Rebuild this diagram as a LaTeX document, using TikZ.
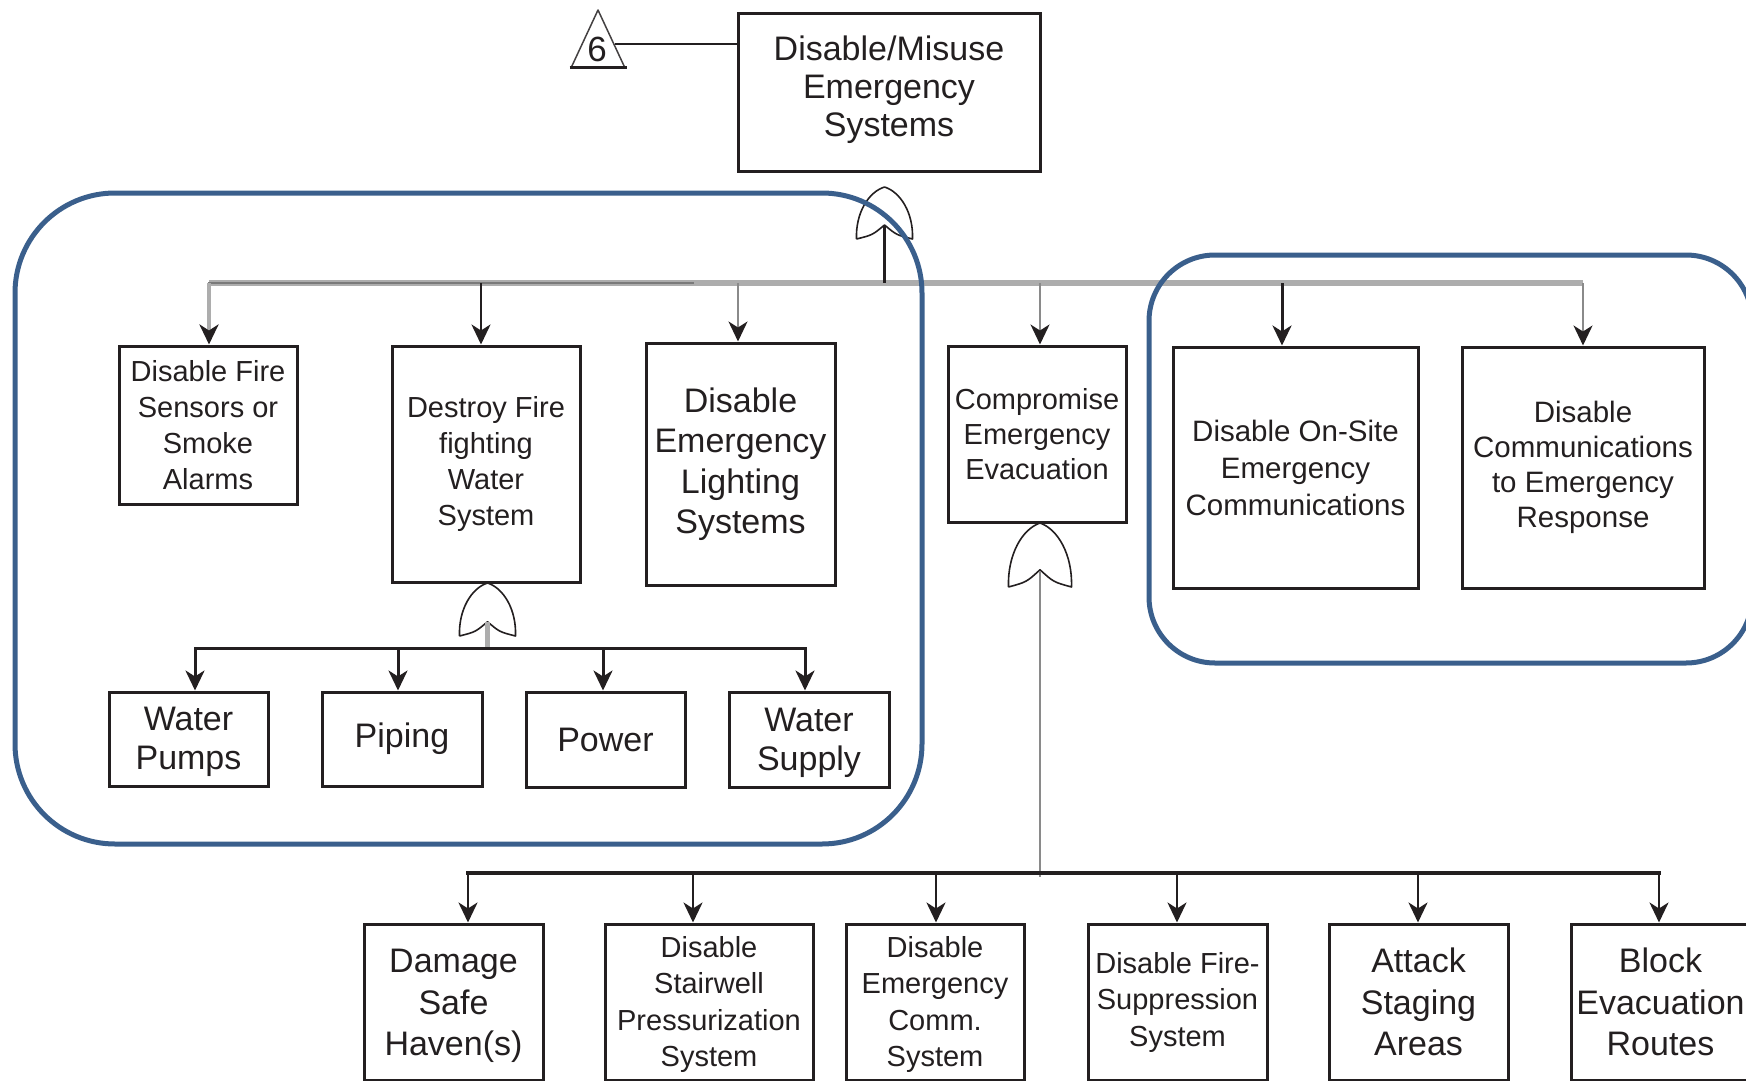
\documentclass[tikz,border=0pt]{standalone}
\usepackage{fontspec}
\setmainfont{Liberation Sans}
\usetikzlibrary{arrows.meta}
\definecolor{ink}{HTML}{231F20}
\definecolor{grpblue}{HTML}{3A5F8C}
\definecolor{busgray}{HTML}{ADADAD}
\definecolor{dimgray}{HTML}{7A7A7A}
\definecolor{midgray}{HTML}{8A8A8A}
\begin{document}
\begin{tikzpicture}[x=1pt,y=-1pt,
  box/.style={draw=ink, line width=3pt, fill=white, align=center, inner sep=0pt, text=ink},
  txtsize/.style 2 args={font=\fontsize{#1pt}{#2pt}\selectfont},
  arrowed/.style={-{Stealth[length=20pt,width=19pt,inset=6pt,color=ink]}},
  blk/.style={draw=ink, line width=3pt},
  grp/.style={draw=grpblue, line width=5pt},
  orgate/.pic={
    \draw[ink, line width=1.6pt, line join=round]
      (-28,0) .. controls (-29,-26) and (-16,-47) .. (0,-52)
      .. controls (16,-47) and (29,-26) .. (28,0)
      .. controls (12,-4) .. (0,-14)
      .. controls (-12,-4) .. (-28,0);
  }
]
\useasboundingbox (0,0) rectangle (1746,1081);
\clip (0,0) rectangle (1746,1081);

% ---------- top event and transfer triangle ----------
\node[box, txtsize={34}{38}, minimum width=302pt, minimum height=157pt] (top) at (889,92.5)
  {Disable/Misuse\\Emergency\\Systems\rule[-12pt]{0pt}{0pt}};
\draw[ink!85, line width=1.5pt, line join=round] (571,68) -- (598,10) -- (625,68);
\draw[ink, line width=3pt] (569.5,68) -- (626.5,68);
\node[text=ink, txtsize={35}{35}, inner sep=0pt] (six) at (597,49) {6};
\coordinate (trilink) at (615,44);
\draw[ink, line width=2.5pt] (trilink) -- (trilink -| top.west);

% ---------- first level ----------
\node[box, txtsize={29}{36}, minimum width=178pt, minimum height=158pt] (sensors) at (208,425)
  {Disable Fire\\Sensors or\\Smoke\\Alarms};
\node[box, txtsize={29}{36}, minimum width=188pt, minimum height=236pt] (destroy) at (486,464)
  {Destroy Fire\\fighting\\Water\\System};
\node[box, txtsize={34}{40.5}, minimum width=189pt, minimum height=242pt] (lighting) at (740.5,464)
  {Disable\\Emergency\\Lighting\\Systems};
\node[box, txtsize={29}{35}, minimum width=178pt, minimum height=176pt] (compromise) at (1037,434)
  {Compromise\\Emergency\\Evacuation};
\node[box, txtsize={29.5}{37}, minimum width=245pt, minimum height=241pt] (onsite) at (1295.5,467.5)
  {Disable On-Site\\Emergency\\Communications};
\node[box, txtsize={29.5}{35}, minimum width=242pt, minimum height=241pt] (response) at (1583,467.5)
  {Disable\\Communications\\to Emergency\\Response};

% ---------- water system parts ----------
\node[box, txtsize={34}{39}, minimum width=159pt, minimum height=94pt] (pumps) at (188.5,739)
  {\rule{0pt}{30pt}Water\\Pumps};
\node[box, txtsize={34}{39}, minimum width=160pt, minimum height=94pt] (piping) at (402,739)
  {Piping};
\node[box, txtsize={34}{39}, minimum width=159pt, minimum height=95pt] (power) at (605.5,739.5)
  {Power};
\node[box, txtsize={34}{39}, minimum width=160pt, minimum height=95pt] (supply) at (809,739.5)
  {\rule{0pt}{30pt}Water\\Supply};

% ---------- evacuation parts ----------
\node[box, txtsize={34}{41.5}, minimum width=179pt, minimum height=156pt] (damage) at (453.5,1002)
  {\rule{0pt}{32pt}Damage\\Safe\\Haven(s)};
\node[box, txtsize={29}{36.5}, minimum width=208pt, minimum height=156pt] (stair) at (709,1002)
  {\rule{0pt}{26pt}Disable\\Stairwell\\Pressurization\\System};
\node[box, txtsize={29}{36.5}, minimum width=178pt, minimum height=156pt] (comm) at (935,1002)
  {\rule{0pt}{26pt}Disable\\Emergency\\Comm.\\System};
\node[box, txtsize={29}{36.5}, minimum width=179pt, minimum height=156pt] (fsupp) at (1177.5,1002)
  {Disable Fire-\\Suppression\\System};
\node[box, txtsize={34}{41.5}, minimum width=179pt, minimum height=156pt] (attack) at (1418.5,1002)
  {Attack\\Staging\\Areas};
\node[box, txtsize={34}{41.5}, minimum width=179pt, minimum height=156pt] (block) at (1660.5,1002)
  {Block\\Evacuation\\Routes};

% ---------- OR gates ----------
\pic at (884.5,239) {orgate};
\pic[yscale=53/52] at (487.5,636) {orgate};
\pic[xscale=63/56, yscale=64/52] at (1040,587) {orgate};
\coordinate (g1out) at (884.5,226);
\coordinate (g2out) at (487.5,622);
\coordinate (g3out) at (1040,572);

% ---------- top bus ----------
\coordinate (t1) at (209,283);
\coordinate (tmid) at (693,283);
\coordinate (t2) at (481,283);
\coordinate (t3) at (738,283);
\coordinate (tg) at (884.5,283);
\coordinate (t4) at (1040,283);
\coordinate (t5) at (1282,283);
\coordinate (t6) at (1583,283);
\draw[busgray, line width=5.5pt] (t1) -- (t6);
\draw[dimgray, line width=2.5pt, line cap=rect] (t1) -- (tmid);
\draw[busgray, line width=4pt, arrowed] (t1) -- (t1 |- sensors.north);
\draw[ink, line width=2.5pt, arrowed] (t2) -- (t2 |- destroy.north);
\draw[midgray, line width=2pt, arrowed] (t3) -- (t3 |- lighting.north);
\draw[midgray, line width=2pt, arrowed] (t4) -- (t4 |- compromise.north);
\draw[ink, line width=3pt, arrowed] (t5) -- (t5 |- onsite.north);
\draw[midgray, line width=2pt, arrowed] (t6) -- (t6 |- response.north);
\draw[ink, line width=3pt] (g1out) -- (tg);

% ---------- water system bus ----------
\coordinate (r1) at (195,648);
\coordinate (r2) at (398,648);
\coordinate (rg) at (487.5,648);
\coordinate (r3) at (603,648);
\coordinate (r4) at (805,648);
\draw[busgray, line width=4.5pt] (g2out) -- (rg);
\draw[blk, line cap=rect] (r1) -- (r4);
\draw[ink, line width=3pt, arrowed] (r1) -- (r1 |- pumps.north);
\draw[ink, line width=3pt, arrowed] (r2) -- (r2 |- piping.north);
\draw[ink, line width=3pt, arrowed] (r3) -- (r3 |- power.north);
\draw[ink, line width=3pt, arrowed] (r4) -- (r4 |- supply.north);

% ---------- evacuation bus ----------
\coordinate (b1) at (468,873);
\coordinate (b2) at (693,873);
\coordinate (b3) at (936,873);
\coordinate (bg) at (1040,877);
\coordinate (b4) at (1177,873);
\coordinate (b5) at (1418,873);
\coordinate (b6) at (1659,873);
\draw[midgray, line width=2pt] (g3out) -- (bg);
\draw[ink, line width=3.5pt, line cap=rect] (b1) -- (b6);
\draw[ink, line width=2.5pt, arrowed] (b1) -- (b1 |- damage.north);
\draw[ink, line width=2.5pt, arrowed] (b2) -- (b2 |- stair.north);
\draw[ink, line width=2.5pt, arrowed] (b3) -- (b3 |- comm.north);
\draw[ink, line width=2.5pt, arrowed] (b4) -- (b4 |- fsupp.north);
\draw[ink, line width=2.5pt, arrowed] (b5) -- (b5 |- attack.north);
\draw[ink, line width=2.5pt, arrowed] (b6) -- (b6 |- block.north);

% ---------- grouping outlines ----------
\draw[grp, rounded corners=100pt] (15,193) rectangle (922,844);
\draw[grp, rounded corners=66pt] (1149,255) rectangle (1752,663);
\end{tikzpicture}
\end{document}
